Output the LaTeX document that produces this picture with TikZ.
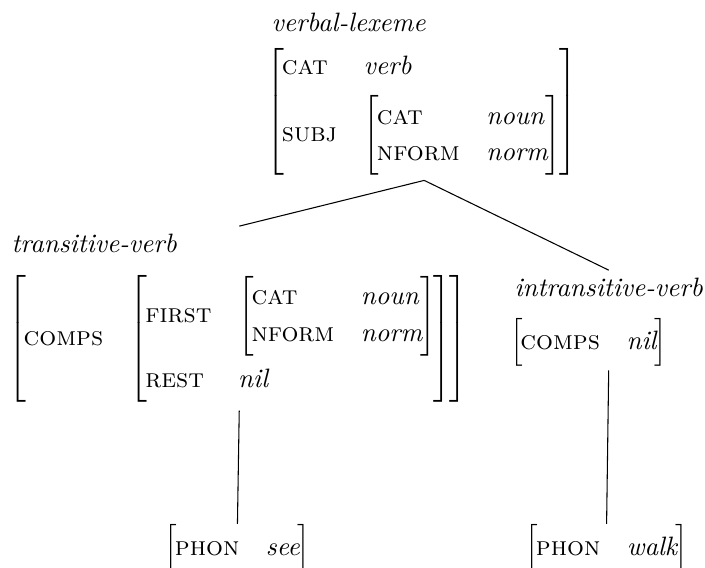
\documentclass[tikz,border=0pt]{standalone}
\usepackage{array}
\newcommand{\ft}[1]{\textsc{#1}}
\newcommand{\vl}[1]{\textit{#1}}
\newcommand{\avmm}[1]{\ensuremath{\def\arraystretch{1.14}\left[\begin{array}{@{\hspace{-0.8pt}}l@{\hspace{10pt}}l@{\hspace{-0.8pt}}}#1\end{array}\right]}}
\begin{document}
\begin{tikzpicture}[x=0.376pt,y=-0.376pt,
  tnode/.style={inner xsep=0pt,inner ysep=1.5pt,anchor=base west},
  leaf/.style={inner xsep=0pt,inner ysep=0pt,anchor=base west},
  every path/.style={line width=0.4pt}]
\useasboundingbox (0,0) rectangle (705,568);
\node[tnode,inner ysep=1.6pt] (lex) at (271,32) {\begin{tabular}[t]{@{}l@{}}\vl{verbal-lexeme}\\[2.4pt]
  \hspace{-2pt}\avmm{\ft{cat} & \vl{verb}\\[3.8pt] \ft{subj} & \avmm{\ft{cat} & \vl{noun}\\ \ft{nform} & \vl{norm}}}\end{tabular}};
\node[tnode] (trans) at (11,253) {\begin{tabular}[t]{@{}l@{}}\vl{transitive-verb}\\[4.7pt]
  \hspace{-1.3pt}\avmm{\ft{comps} & \avmm{\ft{first} & \avmm{\ft{cat} & \vl{noun}\\ \ft{nform} & \vl{norm}}\\ \ft{rest} & \vl{nil}\rule[-5.2pt]{0pt}{17.3pt}}}\end{tabular}};
\node[tnode] (intrans) at (514,297) {\begin{tabular}[t]{@{}l@{}}\vl{intransitive-verb}\\[4.3pt]
  \hspace{-1.7pt}\avmm{\ft{comps} & \vl{nil}}\end{tabular}};
\node[leaf] (see) at (164,555) {\avmm{\ft{phon} & \vl{see}}};
\node[leaf] (walk) at (525,555) {\avmm{\ft{phon} & \vl{walk}}};
\draw (lex.south) -- (trans.north);
\draw (lex.south) -- (intrans.north);
\draw[shorten <=1.3pt] (trans.south) -- (see.north);
\draw (intrans.south) -- (walk.north);
\end{tikzpicture}
\end{document}
